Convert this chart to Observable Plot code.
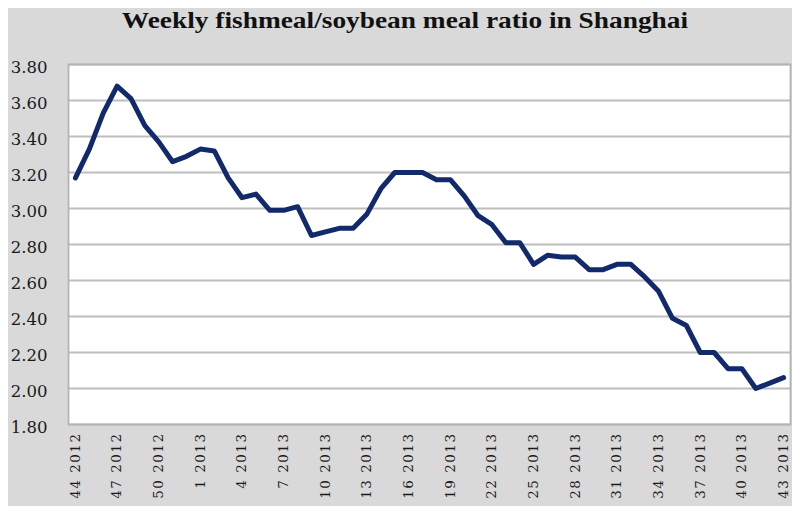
<!DOCTYPE html>
<html><head><meta charset="utf-8">
<script src="https://cdn.jsdelivr.net/npm/d3@7"></script>
<script src="https://cdn.jsdelivr.net/npm/@observablehq/plot@0.6"></script>
<style>
body{margin:0;background:#fff;}
#wrap{position:relative;width:792px;height:506px;overflow:hidden;}
#bg{position:absolute;left:8px;top:8px;right:0;bottom:0;background:#d9d9d9;}
#title{position:absolute;left:0;width:810px;top:7px;text-align:center;font:bold 24px "Liberation Serif",serif;color:#111;white-space:nowrap;transform:scaleX(1.14);transform-origin:405px 0;}
#chart{position:absolute;left:0;top:0;}
</style></head><body>
<div id="wrap"><div id="bg"></div><div id="title"></div><div id="chart"></div></div>
<script>
const titleText = "Weekly fishmeal/soybean meal ratio in Shanghai";
const categories = [
  "44 2012","45 2012","46 2012","47 2012","48 2012","49 2012","50 2012","51 2012","52 2012",
  "1 2013","2 2013","3 2013","4 2013","5 2013","6 2013","7 2013","8 2013","9 2013","10 2013",
  "11 2013","12 2013","13 2013","14 2013","15 2013","16 2013","17 2013","18 2013","19 2013","20 2013",
  "21 2013","22 2013","23 2013","24 2013","25 2013","26 2013","27 2013","28 2013","29 2013","30 2013",
  "31 2013","32 2013","33 2013","34 2013","35 2013","36 2013","37 2013","38 2013","39 2013","40 2013",
  "41 2013","42 2013","43 2013"
];
const ratios = [
  3.17,3.33,3.53,3.68,3.61,3.46,3.37,3.26,3.29,
  3.33,3.32,3.17,3.06,3.08,2.99,2.99,3.01,2.85,2.87,
  2.89,2.89,2.97,3.11,3.20,3.20,3.20,3.16,3.16,3.07,
  2.96,2.91,2.81,2.81,2.69,2.74,2.73,2.73,2.66,2.66,
  2.69,2.69,2.62,2.54,2.39,2.35,2.20,2.20,2.11,2.11,
  2.00,2.03,2.06
];
const yTicks = [1.8,2.0,2.2,2.4,2.6,2.8,3.0,3.2,3.4,3.6,3.8];

document.getElementById("title").textContent = titleText;
const data = categories.map((c,i)=>({week:c, ratio:ratios[i]}));
const xTicks = categories.filter((d,i)=>i%3===0);

const chart = Plot.plot({
  width:792, height:506, marginLeft:68, marginRight:2, marginTop:64, marginBottom:82,
  style:{background:"transparent", fontFamily:"'DejaVu Serif', serif", color:"#1a1a1a"},
  x:{type:"point", domain:categories, padding:0.5},
  y:{domain:[1.8,3.8]},
  marks:[
    Plot.frame({fill:"white"}),
    Plot.ruleY(yTicks,{stroke:"#bebebe", strokeWidth:2.2}),
    Plot.frame({stroke:"#b4b4b4", strokeWidth:1.8}),
    Plot.axisY({ticks:yTicks, tickFormat:d=>d.toFixed(2), tickSize:0, tickPadding:21, fontSize:16.5, dy:3, label:null}),
    Plot.axisX({ticks:xTicks, tickSize:0, tickPadding:8, tickRotate:-90, fontSize:13.5, label:null}),
    Plot.line(data,{x:"week", y:"ratio", stroke:"#12296b", strokeWidth:5, strokeLinejoin:"round", strokeLinecap:"round"})
  ]
});
d3.select(chart).selectAll('g[aria-label="x-axis tick label"] text').style("letter-spacing","1.5px");
document.getElementById("chart").appendChild(chart);
</script>
</body></html>
